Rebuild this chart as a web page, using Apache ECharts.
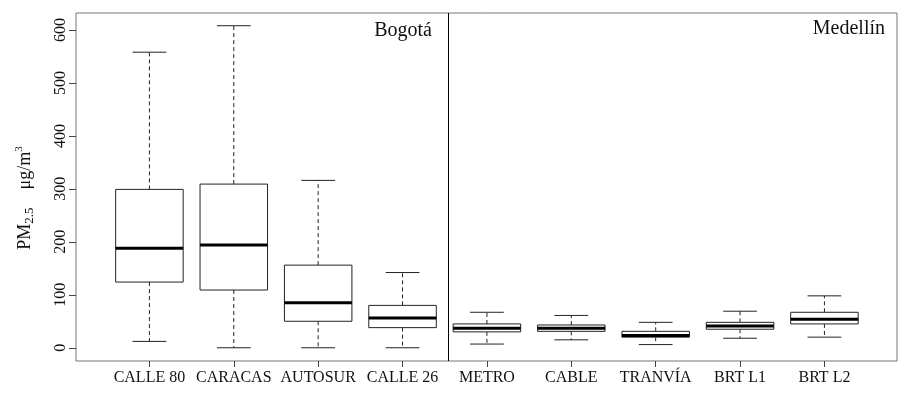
<!DOCTYPE html>
<html>
<head>
    <meta charset="utf-8">
    <title>PM2.5 Bogotá / Medellín</title>
    <script type="text/javascript" src="https://cdn.jsdelivr.net/npm/echarts@6/dist/echarts.min.js"></script>
    <style>
        body { margin: 0; background: #fff; }
        #box { width: 922px; height: 399px; }
    </style>
</head>
<body>
<div id="box"></div>
<script type="text/javascript">
    // sistemas de transporte (eje x)
    var categories = ['CALLE 80', 'CARACAS', 'AUTOSUR', 'CALLE 26', 'METRO', 'CABLE', 'TRANVÍA', 'BRT L1', 'BRT L2'];
    // estadisticos de cada caja, ug/m3
    var whiskerLow  = [12, 0, 0, 0, 7, 15, 6, 18, 20];
    var q1          = [124, 109, 50, 38, 30, 31, 20, 35, 45];
    var median      = [188, 194, 85, 56, 37, 37, 23, 41, 54];
    var q3          = [299, 309, 156, 80, 45, 43, 31, 48, 67];
    var whiskerHigh = [558, 608, 316, 142, 67, 61, 48, 69, 98];
    var yTicks = [0, 100, 200, 300, 400, 500, 600];
    var xTicks = [1, 2, 3, 4, 5, 6, 7, 8, 9];
    var divider = 4.54;   // separa Bogota de Medellin

    var boxData = [];
    for (var i = 0; i < categories.length; i++) {
        boxData.push([i + 1, whiskerLow[i], q1[i], median[i], q3[i], whiskerHigh[i]]);
    }

    var ink = '#222';
    var serif = 'Liberation Serif';

    function renderBox(params, api) {
        var x = api.value(0);
        var lo = api.coord([x, api.value(1)]);
        var b1 = api.coord([x, api.value(2)]);
        var md = api.coord([x, api.value(3)]);
        var b3 = api.coord([x, api.value(4)]);
        var hi = api.coord([x, api.value(5)]);
        var cx = lo[0];
        var half = api.size([0.8, 0])[0] / 2;
        var cap = half / 2;
        var dash = { stroke: ink, lineWidth: 1, lineDash: [4, 3] };
        var solid = { stroke: ink, lineWidth: 1 };
        return {
            type: 'group',
            children: [
                { type: 'line', shape: { x1: cx, y1: b3[1], x2: cx, y2: hi[1] }, style: dash },
                { type: 'line', shape: { x1: cx, y1: b1[1], x2: cx, y2: lo[1] }, style: dash },
                { type: 'line', shape: { x1: cx - cap, y1: hi[1], x2: cx + cap, y2: hi[1] }, style: solid },
                { type: 'line', shape: { x1: cx - cap, y1: lo[1], x2: cx + cap, y2: lo[1] }, style: solid },
                { type: 'rect', shape: { x: cx - half, y: b3[1], width: half * 2, height: b1[1] - b3[1] },
                  style: { fill: '#fff', stroke: ink, lineWidth: 1 } },
                { type: 'line', shape: { x1: cx - half, y1: md[1], x2: cx + half, y2: md[1] },
                  style: { stroke: '#000', lineWidth: 3 } }
            ]
        };
    }

    var myChart = echarts.init(document.getElementById('box'));

    var option = {
        backgroundColor: '#fff',
        animation: false,
        grid: {
            left: 76, right: 25, top: 13, bottom: 38,
            show: true, borderColor: '#777', borderWidth: 1, backgroundColor: 'transparent'
        },
        xAxis: {
            type: 'value',
            min: 0.13,
            max: 9.86,
            axisLine: { show: false, onZero: false },
            splitLine: { show: false },
            axisTick: { show: true, length: 6, customValues: xTicks, lineStyle: { color: '#444' } },
            axisLabel: {
                customValues: xTicks,
                margin: 9,
                color: '#111',
                fontFamily: serif,
                fontSize: 16,
                formatter: function (v) { return categories[Math.round(v) - 1] || ''; }
            }
        },
        yAxis: {
            type: 'value',
            min: -25,
            max: 632,
            axisLine: { show: false, onZero: false },
            splitLine: { show: false },
            axisTick: { show: true, length: 7, customValues: yTicks, lineStyle: { color: '#444' } },
            axisLabel: {
                customValues: yTicks,
                rotate: 90,
                margin: 7,
                color: '#111',
                fontFamily: serif,
                fontSize: 16
            },
            name: '{a|PM}{s|2.5}{a|    μg/m}{p|3}',
            nameLocation: 'middle',
            nameRotate: 90,
            nameGap: 40,
            nameTextStyle: {
                padding: [0, 22, 0, 0],
                rich: {
                    a: { fontFamily: serif, fontSize: 18, color: '#111', lineHeight: 22, verticalAlign: 'middle' },
                    s: { fontFamily: serif, fontSize: 13, color: '#111', lineHeight: 22, verticalAlign: 'bottom' },
                    p: { fontFamily: serif, fontSize: 11, color: '#111', lineHeight: 22, verticalAlign: 'top' }
                }
            }
        },
        graphic: [
            { type: 'text', right: 490, top: 21,
              style: { text: 'Bogotá', fontFamily: serif, fontSize: 20, fill: '#111' } },
            { type: 'text', right: 37, top: 19,
              style: { text: 'Medellín', fontFamily: serif, fontSize: 20, fill: '#111' } }
        ],
        series: [
            {
                type: 'custom',
                renderItem: renderBox,
                data: boxData,
                encode: { x: 0, y: [1, 2, 3, 4, 5] },
                silent: true,
                markLine: {
                    symbol: 'none',
                    silent: true,
                    label: { show: false },
                    lineStyle: { color: '#000', type: 'solid', width: 1 },
                    data: [{ xAxis: divider }]
                }
            }
        ]
    };
    myChart.setOption(option);
</script>
</body>
</html>
